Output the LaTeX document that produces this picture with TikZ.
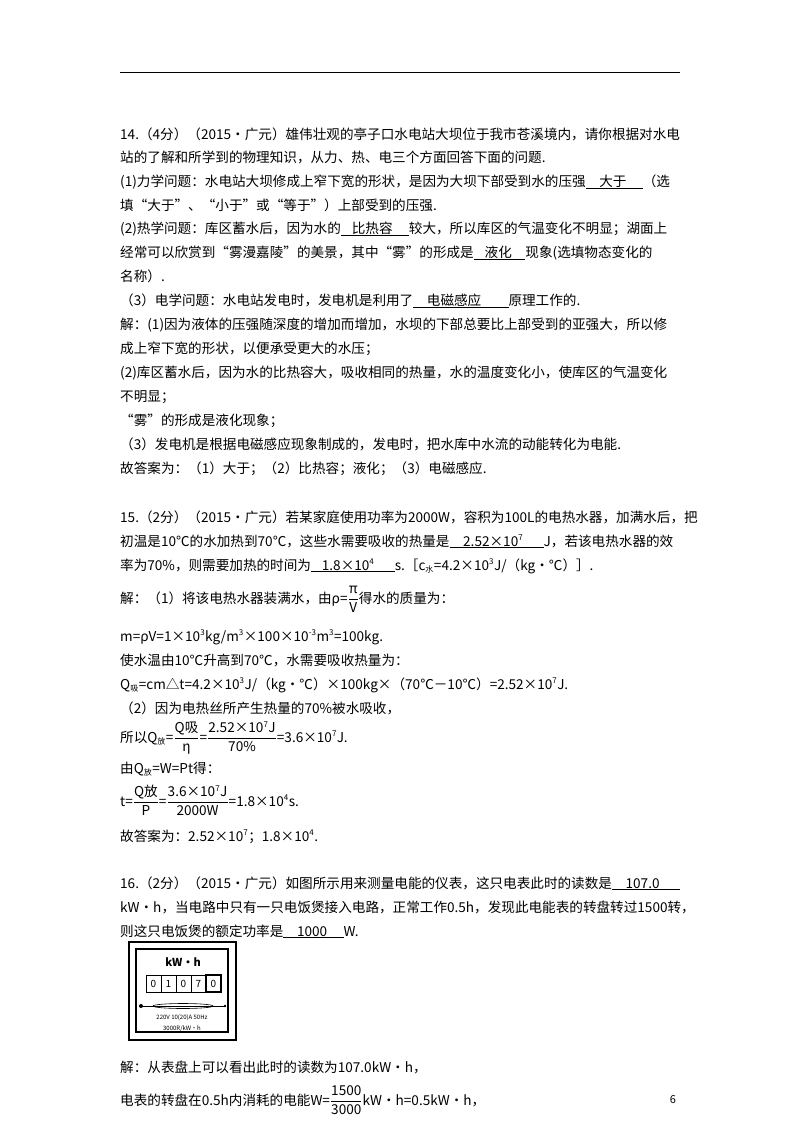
\documentclass[tikz,border=0pt]{standalone}
\usepackage{fontspec}
\setmainfont{Noto Sans CJK SC}
\begin{document}
\begin{tikzpicture}[x=1pt,y=-1pt,
  ln/.style={anchor=base west,inner sep=0pt,font=\fontsize{13.6}{16}\selectfont},
  sm/.style={inner sep=0pt,font=\fontsize{6}{7}\selectfont}]
\newcommand{\ul}[1]{\underline{#1}}
\newcommand{\sub}[1]{\textsubscript{\fontsize{8}{9}\selectfont #1}}
\newcommand{\sps}[1]{\textsuperscript{\fontsize{8}{9}\selectfont #1}}
\newcommand{\fr}[2]{$\displaystyle\frac{\mbox{#1}}{\mbox{#2}}$}
\path[use as bounding box] (0,0) rectangle (800,1132);
\draw[line width=0.8pt] (120,72) -- (680,72);
\node[ln] (a1) at (120,139) {14.（4分）（2015•广元）雄伟壮观的亭子口水电站大坝位于我市苍溪境内，请你根据对水电};
\node[ln] (a2) at (120,162) {站的了解和所学到的物理知识，从力、热、电三个方面回答下面的问题.};
\node[ln] (a3) at (120,186) {(1)力学问题：水电站大坝修成上窄下宽的形状，是因为大坝下部受到水的压强\ul{\hspace{1em}大于\hspace{1.2em}}（选};
\node[ln] (a4) at (120,210) {填“大于”、“小于”或“等于”）上部受到的压强.};
\node[ln] (a5) at (120,233) {(2)热学问题：库区蓄水后，因为水的\ul{\hspace{0.8em}比热容\hspace{1.2em}}较大，所以库区的气温变化不明显；湖面上};
\node[ln] (a6) at (120,257) {经常可以欣赏到“雾漫嘉陵”的美景，其中“雾”的形成是\ul{\hspace{0.8em}液化\hspace{1em}}现象(选填物态变化的};
\node[ln] (a7) at (120,281) {名称）.};
\node[ln] (a8) at (120,305) {（3）电学问题：水电站发电时，发电机是利用了\ul{\hspace{1em}电磁感应\hspace{2em}}原理工作的.};
\node[ln] (a9) at (120,329) {解：(1)因为液体的压强随深度的增加而增加，水坝的下部总要比上部受到的亚强大，所以修};
\node[ln] (a10) at (120,353) {成上窄下宽的形状，以便承受更大的水压；};
\node[ln] (a11) at (120,377) {(2)库区蓄水后，因为水的比热容大，吸收相同的热量，水的温度变化小，使库区的气温变化};
\node[ln] (a12) at (120,401) {不明显；};
\node[ln] (a13) at (120,425) {“雾”的形成是液化现象；};
\node[ln] (a14) at (120,449) {（3）发电机是根据电磁感应现象制成的，发电时，把水库中水流的动能转化为电能.};
\node[ln] (a15) at (120,473) {故答案为：（1）大于；（2）比热容；液化；（3）电磁感应.};

\node[ln] (b1) at (120,522) {15.（2分）（2015•广元）若某家庭使用功率为2000W，容积为100L的电热水器，加满水后，把};
\node[ln] (b2) at (120,546) {初温是10℃的水加热到70℃，这些水需要吸收的热量是\ul{\hspace{1em}2.52×10\sps{7}\hspace{1.5em}}J，若该电热水器的效};
\node[ln] (b3) at (120,570) {率为70\%，则需要加热的时间为\ul{\hspace{0.8em}1.8×10\sps{4}\hspace{1.5em}}s.［c\sub{水}=4.2×10\sps{3}J/（kg•℃）］.};
\node[ln] (b4) at (120,603) {解：（1）将该电热水器装满水，由ρ=\fr{π}{V}得水的质量为：};
\node[ln] (b5) at (120,641) {m=ρV=1×10\sps{3}kg/m\sps{3}×100×10\sps{-3}m\sps{3}=100kg.};
\node[ln] (b6) at (120,665) {使水温由10℃升高到70℃，水需要吸收热量为：};
\node[ln] (b7) at (120,689) {Q\sub{吸}=cm△t=4.2×10\sps{3}J/（kg•℃）×100kg×（70℃－10℃）=2.52×10\sps{7}J.};
\node[ln] (b8) at (120,713) {（2）因为电热丝所产生热量的70\%被水吸收，};
\node[ln] (b9) at (120,742) {所以Q\sub{放}=\fr{Q吸}{η}=\fr{2.52×10\sps{7}J}{70\%}=3.6×10\sps{7}J.};
\node[ln] (b10) at (120,773) {由Q\sub{放}=W=Pt得：};
\node[ln] (b11) at (120,806) {t=\fr{Q放}{P}=\fr{3.6×10\sps{7}J}{2000W}=1.8×10\sps{4}s.};
\node[ln] (b12) at (120,841) {故答案为：2.52×10\sps{7}；1.8×10\sps{4}.};

\node[ln] (c1) at (120,888) {16.（2分）（2015•广元）如图所示用来测量电能的仪表，这只电表此时的读数是\ul{\hspace{1em}107.0\hspace{1.5em}}};
\node[ln] (c2) at (120,912) {kW•h，当电路中只有一只电饭煲接入电路，正常工作0.5h，发现此电能表的转盘转过1500转，};
\node[ln] (c3) at (120,936) {则这只电饭煲的额定功率是\ul{\hspace{1em}1000\hspace{1.2em}}W.};

% meter
\draw[line width=1.6pt] (129,942) rectangle (236,1040);
\draw[line width=1.2pt] (136,949) rectangle (228,1032);
\node[inner sep=0pt,font=\fontsize{11}{12}\selectfont\bfseries] (kwh) at (183,962) {kW•h};
\foreach \i/\d in {0/0,1/1,2/0,3/7,4/0}{
  \draw[line width=0.8pt] (146+\i*15,975) rectangle (161+\i*15,992);
  \node[inner sep=0pt,font=\fontsize{10}{11}\selectfont] (dg\i) at (153.5+\i*15,983.5) {\d};
}
\draw[line width=1.6pt] (206,975) rectangle (221,992);
\draw[line width=0.8pt] (140,1006) -- (226,1006);
\draw[line width=0.6pt] (183,1006) ellipse (30 and 2.5);
\fill (141,1006) circle (2);
\fill (225,1006) circle (1.3);
\node[sm] (mt1) at (182,1018) {220V  10(20)A  50Hz};
\node[sm] (mt2) at (182,1029) {3000R/kW•h};

\node[ln] (d1) at (120,1072) {解：从表盘上可以看出此时的读数为107.0kW•h，};
\node[ln] (d2) at (120,1105) {电表的转盘在0.5h内消耗的电能W=\fr{1500}{3000}kW•h=0.5kW•h，};
\node[inner sep=0pt,font=\fontsize{11}{12}\selectfont] (pg) at (673,1100) {6};
\end{tikzpicture}
\end{document}
